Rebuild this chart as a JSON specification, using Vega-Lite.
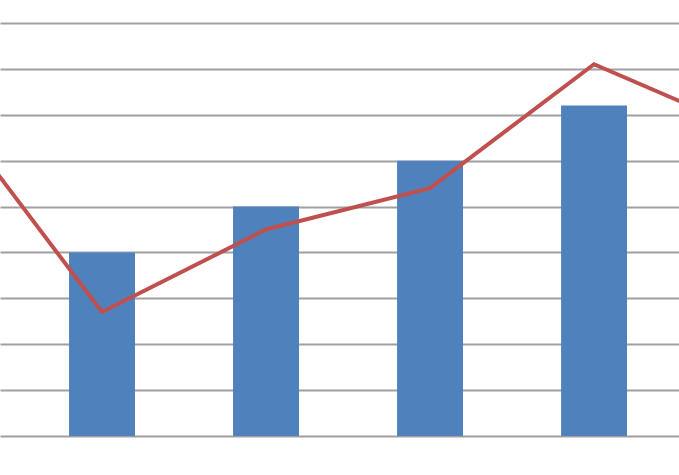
{
  "$schema": "https://vega.github.io/schema/vega-lite/v6.json",
  "width": 679,
  "height": 475,
  "autosize": {"type": "none"},
  "padding": 0,
  "background": "white",
  "view": {"stroke": null},
  "datasets": {
    "bars": [
      {"k": 1, "lo": 0.799, "hi": 1.201, "value": 4.0},
      {"k": 2, "lo": 1.799, "hi": 2.201, "value": 5.0},
      {"k": 3, "lo": 2.799, "hi": 3.201, "value": 6.0},
      {"k": 4, "lo": 3.799, "hi": 4.201, "value": 7.2}
    ],
    "line": [
      {"k": 0, "value": 7.43},
      {"k": 1, "value": 2.7},
      {"k": 2, "value": 4.5},
      {"k": 3, "value": 5.4},
      {"k": 4, "value": 8.1},
      {"k": 5, "value": 6.56}
    ]
  },
  "layer": [
    {
      "data": {"name": "bars"},
      "mark": {"type": "rect", "color": "#4f81bd", "clip": true},
      "encoding": {
        "x": {
          "field": "lo",
          "type": "quantitative",
          "scale": {"domain": [0.378, 4.518], "nice": false, "zero": false},
          "axis": null
        },
        "x2": {"field": "hi"},
        "y": {
          "field": "value",
          "type": "quantitative",
          "scale": {"domain": [-0.85, 9.5], "nice": false, "zero": false},
          "axis": {
            "values": [0, 1, 2, 3, 4, 5, 6, 7, 8, 9],
            "grid": true,
            "gridColor": "#a0a0a0",
            "gridWidth": 2,
            "gridOpacity": 1,
            "labels": false,
            "ticks": false,
            "domain": false,
            "title": null
          }
        },
        "y2": {"datum": 0}
      }
    },
    {
      "data": {"name": "line"},
      "mark": {"type": "line", "color": "#c0504d", "strokeWidth": 4, "clip": true},
      "encoding": {
        "x": {"field": "k", "type": "quantitative"},
        "y": {"field": "value", "type": "quantitative"}
      }
    }
  ]
}
